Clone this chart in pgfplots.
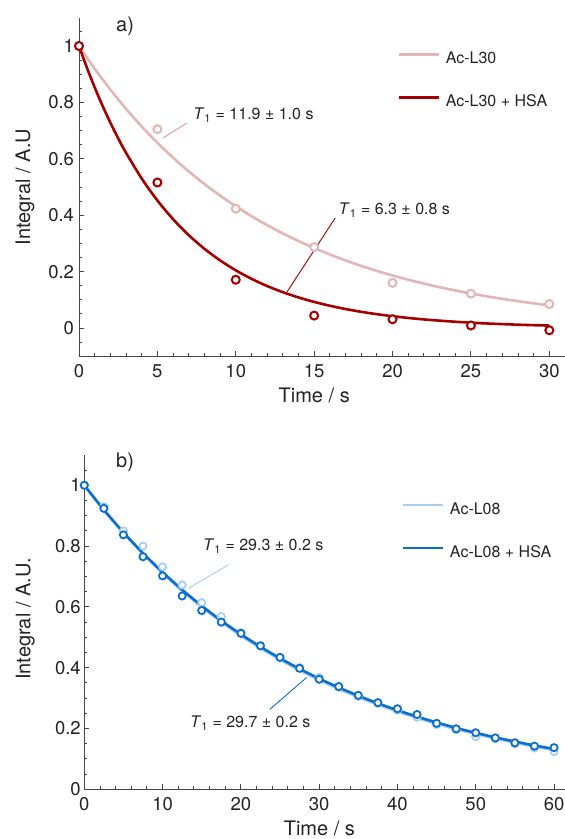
\documentclass[border=0pt]{standalone}
\usepackage{fontspec}
\setmainfont{TeX Gyre Heros}
\usepackage{pgfplots}
\pgfplotsset{compat=1.18}
\definecolor{lpink}{RGB}{226,182,182}
\definecolor{lpinkline}{RGB}{218,160,160}
\definecolor{dred}{RGB}{165,0,0}
\definecolor{lblue}{RGB}{168,205,238}
\definecolor{dblue}{RGB}{10,110,205}
\definecolor{axgray}{RGB}{70,70,70}
\definecolor{txtgray}{RGB}{35,35,35}
\tikzset{anno/.style={font=\fontsize{16}{19}\selectfont, text=txtgray, inner sep=0pt, anchor=west}}
\pgfplotsset{
  myaxis/.style={
    scale only axis,
    axis lines*=left,
    axis line style={axgray, line width=0.9pt},
    tick style={axgray, line width=0.9pt},
    major tick length=5pt,
    minor tick length=3pt,
    tick align=inside,
    ticklabel style={font=\fontsize{18.5}{21}\selectfont, text=txtgray},
    /pgf/number format/assume math mode=true,
    label style={font=\fontsize{20}{24}\selectfont, text=txtgray},
    xticklabel style={yshift=-5pt},
    legend cell align=left,
    legend style={draw=none, fill=none, font=\fontsize{16}{19}\selectfont, text=txtgray,
      inner sep=0pt, outer sep=0pt,
      nodes={inner sep=0pt, text height=12pt, text depth=4pt},
      column sep=6pt, row sep=27pt, anchor=north west},
    legend image code/.code={\draw[#1] (0pt,5pt) -- (40pt,5pt);},
    clip=false,
  },
}
\begin{document}
\begin{tikzpicture}
\useasboundingbox (0,0) rectangle (565pt,839pt);
% ---------------- panel a ----------------
\begin{axis}[myaxis,
  at={(79pt,482.8pt)}, anchor=south west,
  width=486pt, height=338.4pt,
  xmin=0, xmax=31, ymin=-0.1, ymax=1.1,
  xtick={0,5,10,15,20,25,30}, minor x tick num=4,
  ytick={0,0.2,0.4,0.6,0.8,1},
  minor ytick={-0.05,0.05,0.1,0.15,0.25,0.3,0.35,0.45,0.5,0.55,0.65,0.7,0.75,0.85,0.9,0.95,1.05},
  yticklabel style={xshift=-1.5pt},
  xlabel={Time / s}, ylabel={Integral / A.U},
  xlabel style={at={(axis description cs:0.484,-0.115)}, anchor=center},
  ylabel style={at={(axis description cs:-0.111,0.5)}, anchor=center},
  legend style={at={(axis cs:20.3,0.98)}},
]
\addplot[lpink, line width=2.6pt, smooth] coordinates {
(0,1) (1,0.9194) (2,0.8453) (3,0.7772) (4,0.7145) (5,0.6569) (6,0.6040) (7,0.5553)
(8,0.5105) (9,0.4694) (10,0.4316) (11,0.3968) (12,0.3648) (13,0.3354) (14,0.3084)
(15,0.2835) (16,0.2607) (17,0.2397) (18,0.2203) (19,0.2026) (20,0.1862) (21,0.1712)
(22,0.1574) (23,0.1447) (24,0.1331) (25,0.1223) (26,0.1125) (27,0.1034) (28,0.0951)
(29,0.0874) (30,0.0804)};
\addlegendentry{Ac-L30}
\addplot[dred, line width=2.6pt, smooth] coordinates {
(0,1) (0.5,0.9237) (1,0.8532) (1.5,0.7882) (2,0.7280) (2.5,0.6725) (3,0.6212) (4,0.5300) (5,0.4522) (6,0.3859)
(7,0.3292) (8,0.2809) (9,0.2397) (10,0.2045) (11,0.1745) (12,0.1489) (13,0.1270)
(14,0.1084) (15,0.0925) (16,0.0789) (17,0.0673) (18,0.0574) (19,0.0490) (20,0.0418)
(21,0.0357) (22,0.0304) (23,0.0260) (24,0.0222) (25,0.0189) (26,0.0161) (27,0.0138)
(28,0.0117) (29,0.0100) (30,0.0086)};
\addlegendentry{Ac-L30 + HSA}
\addplot[only marks, forget plot, mark=*, mark size=4pt, lpink, line width=2pt, mark options={fill=white}] coordinates {
(0,1) (5,0.705) (10,0.423) (15,0.287) (20,0.160) (25,0.122) (30,0.085)};
\addplot[only marks, forget plot, mark=*, mark size=4pt, dred, line width=2pt, mark options={fill=white}] coordinates {
(0,1) (5,0.516) (10,0.171) (15,0.044) (20,0.031) (25,0.009) (30,-0.008)};
% leader lines
\addplot[forget plot, lpinkline, line width=1pt] coordinates {(5.36,0.674) (6.89,0.727)};
\addplot[forget plot, dred, line width=0.9pt] coordinates {(13.27,0.128) (16.34,0.39)};
\node[anno] at (axis cs:7.28,0.755) {\textit{T}\textsubscript{1} = 11.9 ± 1.0 s};
\node[anno] at (axis cs:16.55,0.418) {\textit{T}\textsubscript{1} = 6.3 ± 0.8 s};
\node[anno, font=\fontsize{20}{24}\selectfont] at (axis cs:2.36,1.071) {a)};
\end{axis}
% ---------------- panel b ----------------
\begin{axis}[myaxis,
  at={(84.3pt,49.7pt)}, anchor=south west,
  width=480.7pt, height=334.4pt,
  xmin=0, xmax=61.4, ymin=0, ymax=1.1,
  xtick={0,10,20,30,40,50,60}, minor x tick num=4,
  ytick={0,0.2,0.4,0.6,0.8,1},
  minor ytick={0.05,0.1,0.15,0.25,0.3,0.35,0.45,0.5,0.55,0.65,0.7,0.75,0.85,0.9,0.95,1.05},
  xlabel={Time / s}, ylabel={Integral / A.U.},
  xlabel style={at={(axis description cs:0.489,-0.117)}, anchor=center},
  ylabel style={at={(axis description cs:-0.123,0.509)}, anchor=center},
  legend style={at={(axis cs:40.5,0.945)}},
]
\addplot[lblue, line width=2.6pt, smooth] coordinates {
(0,1) (2.5,0.9182) (5,0.8431) (7.5,0.7742) (10,0.7109) (12.5,0.6527) (15,0.5994)
(17.5,0.5503) (20,0.5053) (22.5,0.4640) (25,0.4261) (27.5,0.3912) (30,0.3592)
(32.5,0.3298) (35,0.3029) (37.5,0.2781) (40,0.2554) (42.5,0.2345) (45,0.2153)
(47.5,0.1977) (50,0.1815) (52.5,0.1667) (55,0.1531) (57.5,0.1405) (60,0.1290)};
\addlegendentry{Ac-L08}
\addplot[only marks, forget plot, mark=*, mark size=3.6pt, lblue, line width=1.8pt, mark options={fill=white}] coordinates {
(0,1) (2.5,0.930) (5,0.850) (7.5,0.800) (10,0.732) (12.5,0.672) (15,0.614) (17.5,0.568)
(20,0.515) (22.5,0.472) (25,0.432) (27.5,0.400) (30,0.368) (32.5,0.336) (35,0.305)
(37.5,0.283) (40,0.260) (42.5,0.237) (45,0.213) (47.5,0.196) (50,0.173) (52.5,0.166)
(55,0.149) (57.5,0.136) (60,0.124)};
\addplot[dblue, line width=2.6pt, smooth] coordinates {
(0,1) (2.5,0.9193) (5,0.8451) (7.5,0.7768) (10,0.7141) (12.5,0.6565) (15,0.6035)
(17.5,0.5548) (20,0.5100) (22.5,0.4688) (25,0.4310) (27.5,0.3962) (30,0.3642)
(32.5,0.3348) (35,0.3078) (37.5,0.2829) (40,0.2601) (42.5,0.2391) (45,0.2198)
(47.5,0.2020) (50,0.1857) (52.5,0.1707) (55,0.1570) (57.5,0.1443) (60,0.1326)};
\addlegendentry{Ac-L08 + HSA}
\addplot[only marks, forget plot, mark=*, mark size=3.6pt, dblue, line width=1.8pt, mark options={fill=white}] coordinates {
(0,1) (2.5,0.924) (5,0.837) (7.5,0.765) (10,0.702) (12.5,0.636) (15,0.588) (17.5,0.550)
(20,0.513) (22.5,0.472) (25,0.434) (27.5,0.398) (30,0.362) (32.5,0.338) (35,0.309)
(37.5,0.285) (40,0.265) (42.5,0.246) (45,0.217) (47.5,0.199) (50,0.186) (52.5,0.169)
(55,0.153) (57.5,0.142) (60,0.137)};
\addplot[forget plot, lblue, line width=0.9pt] coordinates {(13.28,0.661) (18.39,0.738)};
\addplot[forget plot, dblue, line width=0.9pt] coordinates {(23.7,0.263) (28.4,0.368)};
\node[anno] at (axis cs:15.16,0.80) {\textit{T}\textsubscript{1} = 29.3 ± 0.2 s};
\node[anno] at (axis cs:13.5,0.217) {\textit{T}\textsubscript{1} = 29.7 ± 0.2 s};
\node[anno, font=\fontsize{20}{24}\selectfont] at (axis cs:4.05,1.075) {b)};
\end{axis}
\end{tikzpicture}
\end{document}
